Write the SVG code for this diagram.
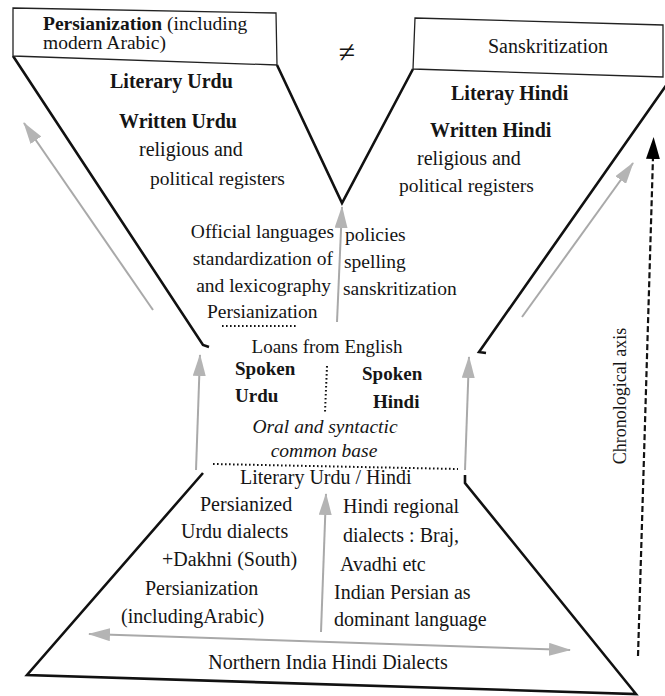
<svg xmlns="http://www.w3.org/2000/svg" width="665" height="696" viewBox="0 0 665 696">
<style>
  .t { font-family: "Liberation Serif", "Times New Roman", serif; font-size: 19.5px; fill: #151515; }
  .b { font-weight: bold; font-size: 20px; }
  .i { font-style: italic; }
  .m { text-anchor: middle; }
  .e { text-anchor: end; }
  .lg { font-size: 20px; }
  .frame { fill: none; stroke: #111; stroke-width: 2.6; stroke-linejoin: miter; }
  .box { fill: #fff; stroke: #222; stroke-width: 1.3; }
  .garr { fill: none; stroke: #a9a9a9; stroke-width: 2; marker-end: url(#gh); }
  .garr2 { fill: none; stroke: #a9a9a9; stroke-width: 2; marker-start: url(#ghs); marker-end: url(#gh); }
  .dot { fill: none; stroke: #111; stroke-width: 2; stroke-dasharray: 1.6 2.4; }
  .axis { fill: none; stroke: #111; stroke-width: 2.2; stroke-dasharray: 6 3; marker-end: url(#bh); }
</style>
<defs>
  <marker id="gh" viewBox="0 0 22 13" refX="21" refY="6.5" markerWidth="22" markerHeight="13" orient="auto" markerUnits="userSpaceOnUse">
    <path d="M0,0 L22,6.5 L0,13 z" fill="#b4b4b4"/>
  </marker>
  <marker id="ghs" viewBox="0 0 22 13" refX="21" refY="6.5" markerWidth="22" markerHeight="13" orient="auto-start-reverse" markerUnits="userSpaceOnUse">
    <path d="M0,0 L22,6.5 L0,13 z" fill="#b4b4b4"/>
  </marker>
  <marker id="bh" viewBox="0 0 22 14" refX="2" refY="7" markerWidth="22" markerHeight="14" orient="auto" markerUnits="userSpaceOnUse">
    <path d="M0,0 L22,7 L0,14 z" fill="#000"/>
  </marker>
</defs>

<rect width="665" height="696" fill="#fff"/>

<g id="frame">
  <polyline class="frame" points="13,56 203,345 209,347"/>
  <polyline class="frame" points="277,65 342,203 413,69"/>
  <polyline class="frame" points="672,77 479,352 486,353"/>
  <polyline class="frame" points="465,475 465,483 636,694 27,675 203,473"/>
</g>

<g id="persianization-box">
  <polygon class="box" points="13,8 276,13 277,65 13,56"/>
  <text class="t" x="43" y="30"><tspan font-weight="bold">Persianization</tspan> (including</text>
  <text class="t" x="43" y="49">modern Arabic)</text>
</g>

<g id="neq">
  <text class="t m" x="347" y="62" style="font-size:30px">≠</text>
</g>

<g id="sanskritization-box">
  <polygon class="box" points="415,18 663,25 663,77 413,69"/>
  <text class="t lg" x="488" y="53">Sanskritization</text>
</g>

<g id="literary-urdu">
  <text class="t b" x="110" y="88">Literary Urdu</text>
  <text class="t b" x="119" y="128">Written Urdu</text>
  <text class="t lg" x="139" y="156">religious and</text>
  <text class="t" x="150" y="185">political registers</text>
</g>

<g id="literary-hindi">
  <text class="t b" x="451" y="100">Literay Hindi</text>
  <text class="t b" x="430" y="137">Written Hindi</text>
  <text class="t lg" x="417" y="165">religious and</text>
  <text class="t" x="399" y="192">political registers</text>
</g>

<g id="policies-urdu">
  <text class="t e" x="334" y="238">Official languages</text>
  <text class="t e" x="333" y="265">standardization of</text>
  <text class="t e" x="331" y="292">and lexicography</text>
  <text class="t" x="207" y="318">Persianization</text>
</g>

<g id="policies-hindi">
  <text class="t" x="345" y="241">policies</text>
  <text class="t" x="344" y="268">spelling</text>
  <text class="t" x="343" y="295">sanskritization</text>
</g>

<g id="spoken">
  <text class="t m" x="327" y="353" style="font-size:19px">Loans from English</text>
  <text class="t b" x="235" y="375" style="font-size:19px">Spoken</text>
  <text class="t b" x="235" y="402" style="font-size:19px">Urdu</text>
  <text class="t b" x="362" y="380" style="font-size:19px">Spoken</text>
  <text class="t b" x="373" y="408" style="font-size:19px">Hindi</text>
  <text class="t i m" x="325" y="433">Oral and syntactic</text>
  <text class="t i m" x="324" y="457">common base</text>
</g>

<g id="literary-urdu-hindi">
  <text class="t lg" x="240" y="484">Literary Urdu / Hindi</text>
</g>

<g id="urdu-dialects">
  <text class="t lg" x="200" y="511">Persianized</text>
  <text class="t lg" x="181" y="538">Urdu dialects</text>
  <text class="t lg" x="162" y="566">+Dakhni (South)</text>
  <text class="t lg" x="145" y="595">Persianization</text>
  <text class="t lg" x="121" y="623">(includingArabic)</text>
</g>

<g id="hindi-dialects">
  <text class="t lg" x="343" y="513">Hindi regional</text>
  <text class="t lg" x="343" y="542">dialects : Braj,</text>
  <text class="t lg" x="340" y="571">Avadhi etc</text>
  <text class="t lg" x="334" y="599">Indian Persian as</text>
  <text class="t lg" x="334" y="626">dominant language</text>
</g>

<g id="northern-india">
  <text class="t lg m" x="328" y="669">Northern India Hindi Dialects</text>
</g>

<g id="chronological-axis">
  <text class="t m" transform="translate(626,396) rotate(-90)" style="font-size:18px">Chronological axis</text>
</g>

<g id="connectors">
  <line class="garr" x1="153" y1="310" x2="24" y2="123"/>
  <line class="garr" x1="522" y1="317" x2="633" y2="163"/>
  <line class="garr" x1="337" y1="322" x2="342" y2="207"/>
  <line class="garr" x1="196" y1="470" x2="200" y2="355"/>
  <line class="garr" x1="465" y1="470" x2="469" y2="357"/>
  <line class="garr" x1="321" y1="632" x2="326" y2="494"/>
  <line class="garr2" x1="89" y1="634" x2="570" y2="650"/>
  <line class="dot" x1="222" y1="326" x2="297" y2="326"/>
  <line class="dot" x1="327" y1="366" x2="325" y2="412"/>
  <line class="dot" x1="213" y1="464" x2="458" y2="469"/>
  <line class="axis" x1="638" y1="656" x2="653" y2="157"/>
</g>
</svg>
